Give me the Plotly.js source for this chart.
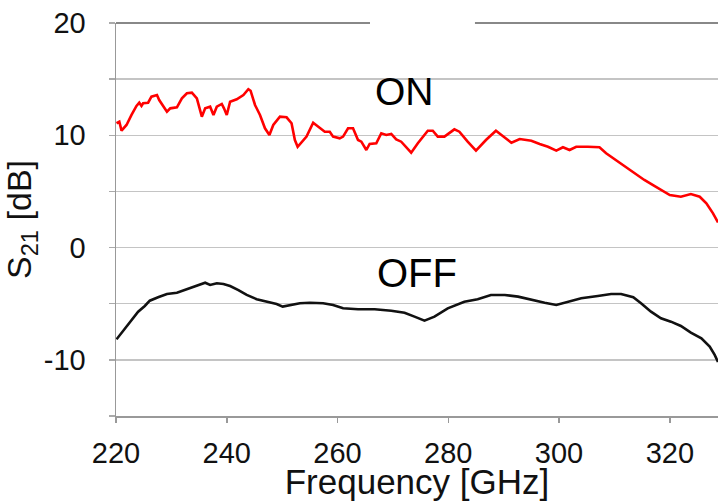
<!DOCTYPE html>
<html>
<head>
<meta charset="utf-8">
<script src="https://cdn.plot.ly/plotly-3.0.1.min.js"></script>
<style>html,body{margin:0;padding:0;background:#fff;}#chart{width:718px;height:501px;}</style>
</head>
<body>
<div id="chart"></div>
<script>
// ON state S21 (red)
const onFreq = [220.1,220.6,221.0,221.9,222.8,223.7,224.2,224.6,224.9,225.8,226.4,227.4,227.8,228.5,229.2,229.8,231.0,231.9,232.8,233.7,234.6,235.5,236.1,237.0,237.6,238.2,239.1,239.5,240.0,240.6,241.8,243.0,243.9,244.3,245.1,246.0,246.9,247.7,248.4,249.6,250.8,251.7,252.3,252.8,253.8,254.4,255.6,256.5,257.7,258.6,259.2,260.4,261.0,261.9,262.8,263.7,264.3,265.2,265.8,267.0,267.9,268.8,269.7,270.6,271.5,273.3,274.5,276.3,277.2,278.1,279.3,281.1,282.0,283.5,285.0,286.8,288.6,289.6,291.4,292.9,295.0,296.5,298.0,299.5,300.7,301.9,303.1,305.2,307.3,308.5,311.2,313.6,315.4,317.2,318.7,320.0,322.0,323.8,325.4,326.6,327.8,328.7];
const onS21 = [11.07,11.21,10.41,10.92,11.81,12.61,12.90,12.61,12.85,12.90,13.44,13.59,13.14,12.61,12.10,12.40,12.49,13.29,13.74,13.79,13.29,11.66,12.40,12.55,11.81,12.55,12.79,12.40,11.81,12.99,13.21,13.59,14.10,13.97,12.70,11.81,10.62,10.03,10.92,11.66,11.60,11.07,9.58,8.98,9.58,9.88,11.12,10.77,10.32,10.32,9.88,9.73,9.88,10.62,10.62,9.58,9.43,8.69,9.23,9.29,10.18,10.03,10.12,9.64,9.43,8.45,9.29,10.41,10.41,9.88,9.88,10.53,10.32,9.43,8.63,9.58,10.41,10.03,9.34,9.67,9.52,9.23,8.98,8.63,8.93,8.69,8.98,8.98,8.93,8.40,7.44,6.62,6.02,5.49,5.07,4.68,4.53,4.77,4.53,3.94,3.05,2.24];

// OFF state S21 (black)
const offFreq = [220.1,220.7,221.6,222.8,224.0,225.2,226.1,227.6,229.2,231.0,232.8,234.6,236.1,237.0,238.2,239.4,240.6,242.1,243.6,245.4,247.2,249.0,250.1,251.4,253.2,255.0,257.4,259.2,261.0,263.7,266.7,269.7,272.1,273.9,275.7,277.5,279.9,282.9,285.3,287.7,290.2,292.6,295.0,297.4,299.5,301.6,304.0,307.0,309.4,311.2,313.4,314.8,316.6,318.4,320.2,322.0,323.8,325.7,327.2,328.1,328.7];
const offS21 = [-8.17,-7.78,-7.19,-6.45,-5.71,-5.20,-4.73,-4.43,-4.13,-4.02,-3.71,-3.33,-3.13,-3.33,-3.18,-3.24,-3.42,-3.78,-4.22,-4.60,-4.82,-5.02,-5.26,-5.11,-4.96,-4.91,-4.96,-5.11,-5.41,-5.49,-5.49,-5.62,-5.80,-6.15,-6.51,-6.15,-5.41,-4.82,-4.60,-4.22,-4.22,-4.37,-4.67,-4.91,-5.11,-4.82,-4.51,-4.31,-4.13,-4.13,-4.43,-4.96,-5.71,-6.30,-6.60,-6.98,-7.58,-8.08,-8.82,-9.56,-10.19];

const xTickVals = [220,240,260,280,300,320];
const yTickVals = [-10,0,10,20];
const yTickText = ['-10','0','10','20'];
const yMinorVals = [-15,-5,5,15];
const seriesLabels = ['ON','OFF'];

const font = 'Liberation Sans, Arial, sans-serif';

const data = [
  {x: onFreq, y: onS21, type: 'scatter', mode: 'lines', name: 'ON',
   line: {color: '#ff0000', width: 2.6}},
  {x: offFreq, y: offS21, type: 'scatter', mode: 'lines', name: 'OFF',
   line: {color: '#111111', width: 2.6}}
];

const layout = {
  width: 718, height: 501,
  margin: {l: 116, r: 0, t: 23, b: 85},
  paper_bgcolor: '#ffffff', plot_bgcolor: '#ffffff',
  showlegend: false,
  font: {family: font, color: '#000'},
  xaxis: {
    range: [220, 328.7], tickvals: xTickVals, ticks: 'outside', ticklen: 5,
    tickcolor: '#999', tickwidth: 1.5,
    showline: true, linecolor: '#999', linewidth: 1.5, showgrid: false, zeroline: false,
    tickfont: {size: 29, family: font, color: '#111'},
    ticklabelstandoff: 6,
    title: {text: 'Frequency [GHz]', font: {size: 35, family: font, color: '#111'}, standoff: 4}
  },
  yaxis: {
    range: [-15, 20], tickvals: yTickVals, ticktext: yTickText, ticks: 'outside', ticklen: 6,
    tickcolor: '#aaa', tickwidth: 1.5,
    showline: true, linecolor: '#999', linewidth: 1.5,
    showgrid: true, gridcolor: '#c4c4c4', gridwidth: 1.5, zeroline: false,
    minor: {tickvals: yMinorVals, ticks: 'outside', ticklen: 6, tickcolor: '#aaa', tickwidth: 1.5,
            showgrid: true, gridcolor: '#c4c4c4', gridwidth: 1.5},
    tickfont: {size: 29, family: font, color: '#111'},
    ticklabelstandoff: 17,
    title: {text: 'S<sub>21</sub> [dB]', font: {size: 34, family: font, color: '#111'}, standoff: 2}
  },
  shapes: [
    {type: 'line', xref: 'paper', yref: 'paper', x0: 0, x1: 0.422, y0: 1, y1: 1,
     line: {color: '#888', width: 2.2}},
    {type: 'line', xref: 'paper', yref: 'paper', x0: 0.596, x1: 1, y0: 1, y1: 1,
     line: {color: '#888', width: 2.2}},
    {type: 'line', xref: 'paper', yref: 'paper', x0: 0.422, x1: 0.596, y0: 1, y1: 1,
     line: {color: '#ffffff', width: 3}}
  ],
  annotations: [
    {x: 272.1, y: 13.9, xref: 'x', yref: 'y', text: seriesLabels[0], showarrow: false,
     font: {size: 39, family: font, color: '#000'}},
    {x: 274.4, y: -2.3, xref: 'x', yref: 'y', text: seriesLabels[1], showarrow: false,
     font: {size: 40, family: font, color: '#000'}}
  ]
};

Plotly.newPlot('chart', data, layout, {displayModeBar: false, staticPlot: true});
</script>
</body>
</html>
